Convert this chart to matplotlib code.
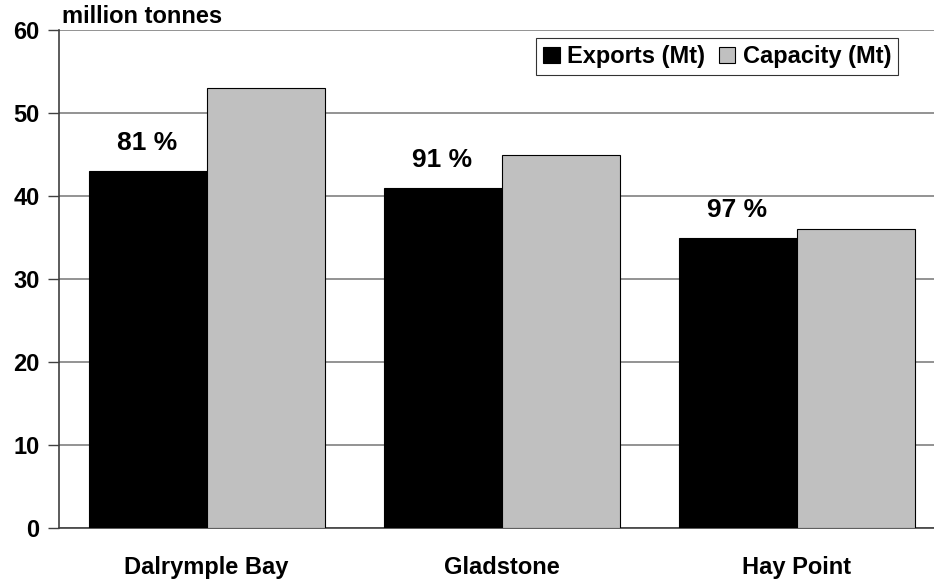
import matplotlib.pyplot as plt
import numpy as np

# Coal terminal exports vs capacity, million tonnes
terminals = ["Dalrymple Bay", "Gladstone", "Hay Point"]
exports_mt = [43, 41, 35]
capacity_mt = [53, 45, 36]
y_ticks = [0, 10, 20, 30, 40, 50, 60]

plt.rcParams["font.family"] = ["Liberation Sans", "DejaVu Sans"]
plt.rcParams["font.weight"] = "bold"

fig = plt.figure(figsize=(9.34, 5.81), dpi=100)
ax = fig.add_axes([0.0632, 0.0912, 0.9368, 0.857])

x = np.arange(len(terminals))
w = 0.4
b1 = ax.bar(x - w / 2, exports_mt, w, color="black", edgecolor="black",
            linewidth=0.8, label="Exports (Mt)", zorder=3)
b2 = ax.bar(x + w / 2, capacity_mt, w, color="#c0c0c0", edgecolor="black",
            linewidth=0.8, label="Capacity (Mt)", zorder=3)

# utilisation labels above the export bars
for xi, e, c in zip(x, exports_mt, capacity_mt):
    ax.text(xi - w / 2, e + 1.9, f"{round(100 * e / c)} %", ha="center",
            va="bottom", fontsize=19, fontweight="bold")

ax.set_xlim(-0.5, 2.466)
ax.set_ylim(0, 60)
ax.set_yticks(y_ticks)
ax.set_xticks(x)
ax.set_xticklabels(terminals, fontsize=17, fontweight="bold")
ax.tick_params(axis="x", length=0, pad=20)
ax.tick_params(axis="y", labelsize=17, length=8, width=1, color="#404040", pad=6)
ax.yaxis.grid(True, color="#808080", linewidth=1.2, zorder=0)
ax.set_axisbelow(True)

for s in ["top", "right"]:
    ax.spines[s].set_visible(False)
ax.spines["left"].set_color("#404040")
ax.spines["bottom"].set_color("#404040")
ax.spines["left"].set_linewidth(1.2)
ax.spines["bottom"].set_linewidth(1.2)

ax.text(0.003, 1.005, "million tonnes", transform=ax.transAxes, ha="left",
        va="bottom", fontsize=17, fontweight="bold")

leg = ax.legend(loc="upper right", bbox_to_anchor=(0.959, 0.984), ncol=2,
                fontsize=17, frameon=True, fancybox=False, handlelength=0.7,
                handleheight=0.7, handletextpad=0.3, columnspacing=0.6,
                borderpad=0.3, borderaxespad=0)
leg.get_frame().set_edgecolor("black")
leg.get_frame().set_linewidth(0.8)
for t in leg.get_texts():
    t.set_fontweight("bold")

fig.savefig("out.png", dpi=100)
